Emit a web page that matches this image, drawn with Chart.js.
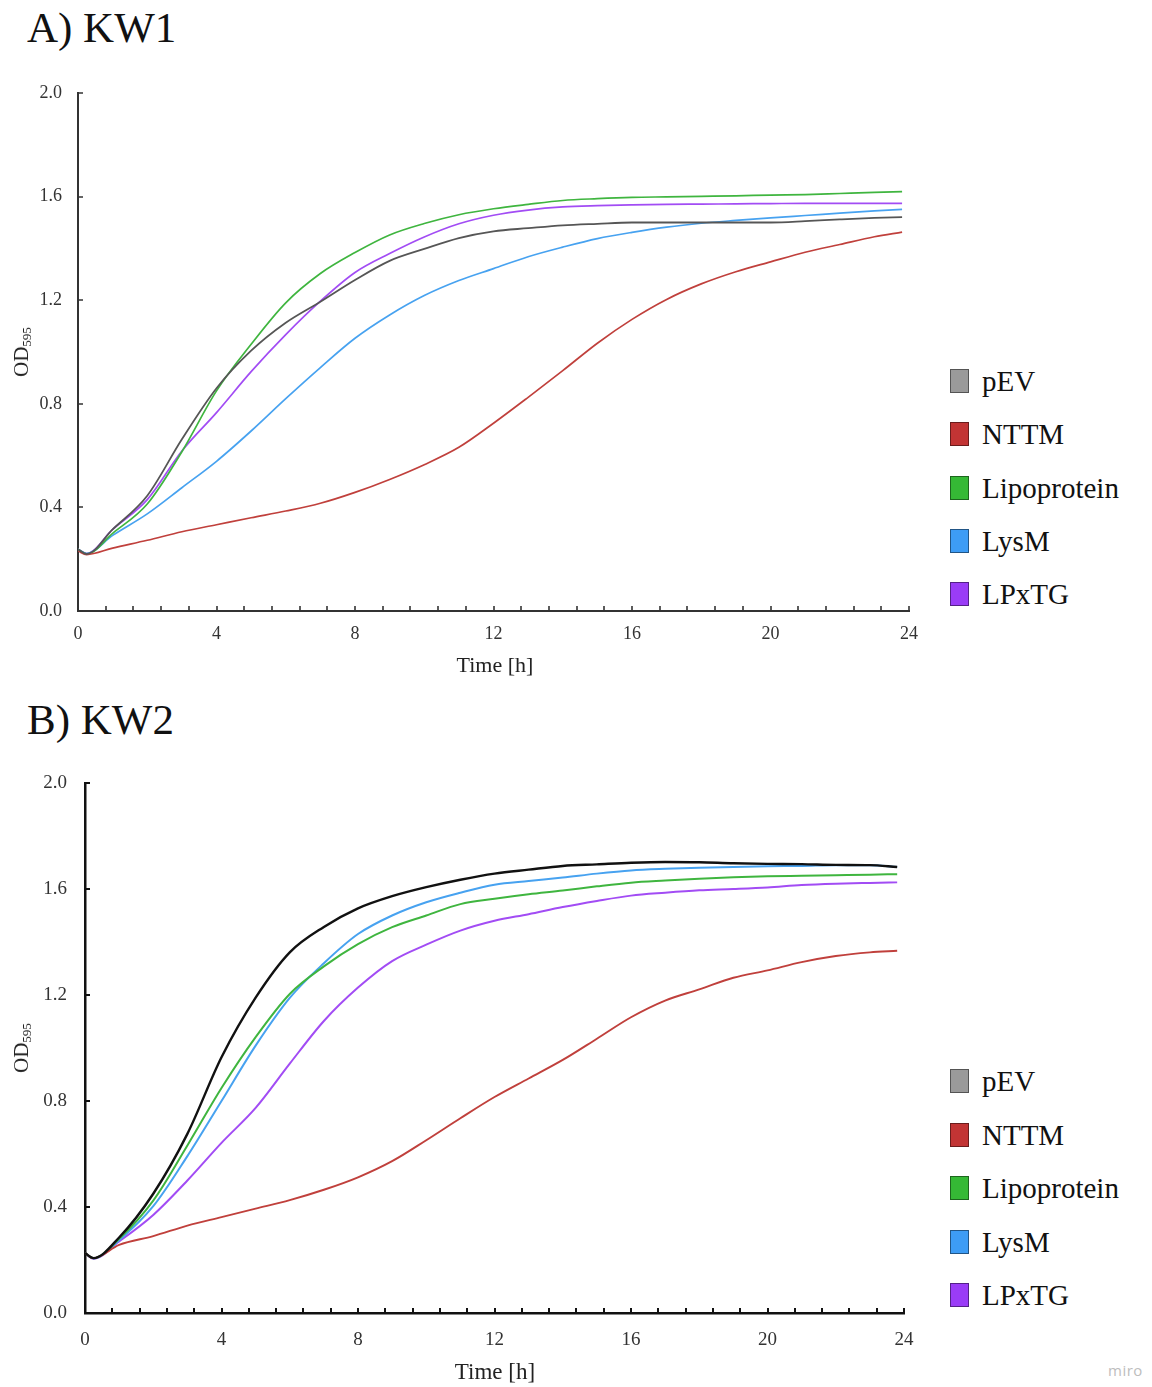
<!DOCTYPE html>
<html>
<head>
<meta charset="utf-8">
<script src="https://cdn.jsdelivr.net/npm/chart.js@4.4.1/dist/chart.umd.min.js"></script>
<style>
  html, body { margin: 0; padding: 0; background: #fff; }
  body { width: 1152px; height: 1387px; position: relative; overflow: hidden;
         font-family: 'Liberation Serif', 'Times New Roman', serif; color: #111; }
  canvas { position: absolute; left: 0; }
  .panel-title { position: absolute; font-size: 43px; line-height: 1; color: #111; }
  .ytitle { position: absolute; transform: translate(-50%, -50%) rotate(-90deg);
            white-space: nowrap; font-size: 21px; color: #222; }
  .ytitle sub { font-size: 13px; vertical-align: -3px; }
  .xtitle { position: absolute; transform: translate(-50%, -50%); white-space: nowrap; color: #222; }
  .legend { position: absolute; left: 950px; }
  .legend .item { position: absolute; left: 0; height: 26px; display: flex; align-items: center;
                  white-space: nowrap; font-size: 29px; color: #111; }
  .legend .sw { width: 19px; height: 24px; box-sizing: border-box; border: 1px solid rgba(0,0,0,0.45);
                margin-right: 13px; flex: none; }
  .miro { position: absolute; left: 1108px; top: 1360px; font-family: 'Open Sans', 'DejaVu Sans', sans-serif;
          font-size: 15px; color: #bdbdbd; letter-spacing: 0.5px; }
</style>
</head>
<body>
<div class="panel-title" style="left:27px; top:6px;">A) KW1</div>
<div class="panel-title" style="left:27px; top:698px;">B) KW2</div>

<canvas id="chartA" width="930" height="640" style="top:53px;"></canvas>
<canvas id="chartB" width="930" height="640" style="top:743px;"></canvas>

<div class="ytitle" style="left:22px; top:352px;">OD<sub>595</sub></div>
<div class="ytitle" style="left:22px; top:1048px;">OD<sub>595</sub></div>
<div class="xtitle" style="left:495px; top:665px; font-size:22px;">Time [h]</div>
<div class="xtitle" style="left:495px; top:1372px; font-size:23px;">Time [h]</div>

<div class="legend" id="legendA" style="top:0px;"></div>
<div class="legend" id="legendB" style="top:0px;"></div>

<div class="miro">miro</div>

<script>
// ---------------- DATA ----------------
const seriesNames = ['pEV', 'NTTM', 'Lipoprotein', 'LysM', 'LPxTG'];
const timeHours = [0, 0.25, 1, 2, 3, 4, 5, 6, 7, 8, 9, 10, 11, 12, 13, 14, 15, 16, 17, 18, 19, 20, 21, 22, 23, 23.8];
const xTickLabels = ['0', '4', '8', '12', '16', '20', '24'];
const yTickLabels = ['0.0', '0.4', '0.8', '1.2', '1.6', '2.0'];

// Panel A) KW1
const kw1_pEV   = [0.238, 0.220, 0.315, 0.445, 0.663, 0.860, 1.005, 1.113, 1.194, 1.278, 1.352, 1.398, 1.440, 1.466, 1.478, 1.489, 1.495, 1.500, 1.500, 1.500, 1.500, 1.500, 1.505, 1.512, 1.518, 1.521];
const kw1_NTTM  = [0.232, 0.218, 0.243, 0.273, 0.306, 0.333, 0.360, 0.386, 0.416, 0.458, 0.508, 0.565, 0.632, 0.725, 0.825, 0.928, 1.034, 1.126, 1.203, 1.263, 1.310, 1.348, 1.385, 1.415, 1.445, 1.463];
const kw1_Lipo  = [0.238, 0.220, 0.300, 0.413, 0.615, 0.850, 1.030, 1.190, 1.303, 1.384, 1.452, 1.496, 1.530, 1.553, 1.570, 1.585, 1.592, 1.597, 1.599, 1.601, 1.603, 1.606, 1.608, 1.612, 1.616, 1.619];
const kw1_LysM  = [0.238, 0.222, 0.292, 0.375, 0.476, 0.578, 0.695, 0.820, 0.940, 1.053, 1.143, 1.218, 1.276, 1.322, 1.368, 1.405, 1.438, 1.462, 1.482, 1.497, 1.508, 1.518, 1.527, 1.536, 1.545, 1.551];
const kw1_LPxTG = [0.238, 0.222, 0.315, 0.430, 0.618, 0.766, 0.924, 1.067, 1.196, 1.307, 1.380, 1.444, 1.495, 1.528, 1.548, 1.560, 1.565, 1.568, 1.570, 1.571, 1.572, 1.573, 1.574, 1.574, 1.574, 1.574];

// Panel B) KW2
const kw2_pEV   = [0.226, 0.207, 0.285, 0.450, 0.676, 0.965, 1.190, 1.361, 1.457, 1.527, 1.573, 1.607, 1.635, 1.658, 1.673, 1.687, 1.693, 1.699, 1.702, 1.701, 1.697, 1.695, 1.694, 1.691, 1.690, 1.683];
const kw2_NTTM  = [0.226, 0.207, 0.257, 0.290, 0.330, 0.362, 0.394, 0.426, 0.465, 0.512, 0.573, 0.652, 0.735, 0.815, 0.885, 0.955, 1.035, 1.116, 1.179, 1.221, 1.265, 1.293, 1.324, 1.347, 1.361, 1.367];
const kw2_Lipo  = [0.226, 0.207, 0.280, 0.424, 0.632, 0.849, 1.041, 1.204, 1.308, 1.392, 1.456, 1.500, 1.543, 1.563, 1.580, 1.594, 1.610, 1.624, 1.632, 1.639, 1.644, 1.648, 1.650, 1.652, 1.654, 1.656];
const kw2_LysM  = [0.226, 0.207, 0.275, 0.403, 0.592, 0.800, 1.009, 1.189, 1.320, 1.430, 1.500, 1.550, 1.586, 1.616, 1.630, 1.643, 1.658, 1.670, 1.676, 1.680, 1.683, 1.686, 1.687, 1.690, 1.690, 1.683];
const kw2_LPxTG = [0.226, 0.205, 0.270, 0.370, 0.500, 0.642, 0.774, 0.941, 1.102, 1.228, 1.328, 1.390, 1.443, 1.480, 1.505, 1.532, 1.555, 1.575, 1.586, 1.595, 1.600, 1.606, 1.615, 1.620, 1.623, 1.625];

// ---------------- STYLES ----------------
const swatchColors = ['#9a9a9a', '#c23434', '#35b935', '#3d9cf5', '#9a3cf7'];
const lineColorsA  = ['#565656', '#c0403c', '#3fb53f', '#47a2f0', '#a24cf4'];
const lineColorsB  = ['#111111', '#c0403c', '#3fb53f', '#47a2f0', '#a24cf4'];
const serif = "'Liberation Serif', 'Times New Roman', serif";

// inward tick marks drawn through the chart's own scales
const innerTicks = {
  id: 'innerTicks',
  afterDraw(chart, args, opts) {
    const {ctx, chartArea, scales} = chart;
    const xs = scales.x, ys = scales.y;
    ctx.save();
    ctx.strokeStyle = opts.color;
    ctx.lineWidth = opts.width;
    ctx.beginPath();
    xs.ticks.forEach(t => {
      const px = Math.round(xs.getPixelForValue(t.value));
      ctx.moveTo(px, chartArea.bottom);
      ctx.lineTo(px, chartArea.bottom - opts.len);
    });
    ys.ticks.forEach(t => {
      const py = Math.round(ys.getPixelForValue(t.value));
      ctx.moveTo(chartArea.left, py);
      ctx.lineTo(chartArea.left + opts.len, py);
    });
    ctx.stroke();
    ctx.restore();
  }
};

function buildDatasets(seriesList, colors, widths) {
  return seriesList.map((vals, i) => ({
    label: seriesNames[i],
    data: timeHours.map((t, k) => ({x: t, y: vals[k]})),
    borderColor: colors[i],
    backgroundColor: colors[i],
    borderWidth: widths[i],
    pointRadius: 0,
    fill: false,
    cubicInterpolationMode: 'monotone'
  }));
}

function makeChart(id, seriesList, colors, widths, geom) {
  const minorTicks = Array.from({length: 31}, (_, i) => Math.round(i * 8) / 10);
  return new Chart(document.getElementById(id), {
    type: 'line',
    data: { datasets: buildDatasets(seriesList, colors, widths) },
    plugins: [innerTicks],
    options: {
      responsive: false,
      animation: false,
      layout: { padding: { top: 40, right: geom.padRight, left: 0, bottom: 0 } },
      plugins: {
        legend: { display: false },
        tooltip: { enabled: false },
        innerTicks: { color: geom.axisColor, width: geom.tickWidth, len: 5 }
      },
      scales: {
        x: {
          type: 'linear', min: 0, max: 24,
          grid: { display: false, drawTicks: false },
          border: { display: true, color: geom.axisColor, width: geom.axisWidth },
          afterBuildTicks: (s) => { s.ticks = minorTicks.map(v => ({value: v})); },
          afterFit: (s) => { s.height = geom.xHeight; },
          ticks: {
            autoSkip: false, maxRotation: 0, padding: geom.xPad,
            color: '#333', font: { family: serif, size: geom.tickSize },
            callback: (v) => {
              const k = v / 4;
              return Math.abs(k - Math.round(k)) < 1e-6 ? xTickLabels[Math.round(k)] : '';
            }
          }
        },
        y: {
          type: 'linear', min: 0, max: 2,
          grid: { display: false, drawTicks: false },
          border: { display: true, color: geom.axisColor, width: geom.axisWidth },
          afterFit: (s) => { s.width = geom.yWidth; },
          ticks: {
            stepSize: 0.4, padding: geom.yPad,
            color: '#333', font: { family: serif, size: geom.tickSize },
            callback: (v) => yTickLabels[Math.round(v / 0.4)]
          }
        }
      }
    }
  });
}

makeChart('chartA', [kw1_pEV, kw1_NTTM, kw1_Lipo, kw1_LysM, kw1_LPxTG], lineColorsA,
  [1.8, 1.7, 1.7, 1.7, 1.7],
  { padRight: 19, xHeight: 82, yWidth: 78, xPad: 12, yPad: 16, tickSize: 18,
    axisColor: '#333', axisWidth: 2, tickWidth: 1.6 });
makeChart('chartB', [kw2_pEV, kw2_NTTM, kw2_Lipo, kw2_LysM, kw2_LPxTG], lineColorsB,
  [2.4, 1.9, 2.0, 2.0, 2.0],
  { padRight: 26, xHeight: 70, yWidth: 85, xPad: 16, yPad: 18, tickSize: 19,
    axisColor: '#111', axisWidth: 2.5, tickWidth: 2 });

// ---------------- LEGENDS ----------------
function buildLegend(id, centers) {
  const box = document.getElementById(id);
  seriesNames.forEach((name, i) => {
    const item = document.createElement('div');
    item.className = 'item';
    item.style.top = (centers[i] - 13) + 'px';
    const sw = document.createElement('span');
    sw.className = 'sw';
    sw.style.background = swatchColors[i];
    const tx = document.createElement('span');
    tx.textContent = name;
    item.appendChild(sw);
    item.appendChild(tx);
    box.appendChild(item);
  });
}
buildLegend('legendA', [381, 434, 488, 541, 594]);
buildLegend('legendB', [1081, 1135, 1188, 1242, 1295]);
</script>
</body>
</html>
